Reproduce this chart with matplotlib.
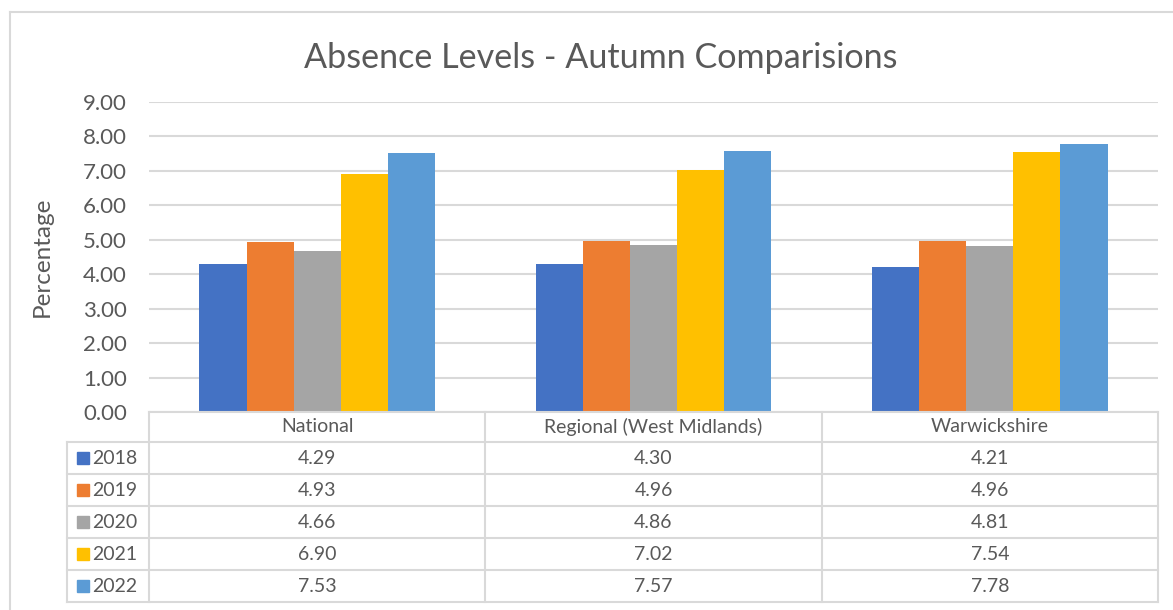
import matplotlib.pyplot as plt
from matplotlib.lines import Line2D
from matplotlib.patches import Rectangle
import numpy as np

plt.rcParams['font.family'] = ['Lato', 'DejaVu Sans']

# data
categories = ["National", "Regional (West Midlands)", "Warwickshire"]
years = ["2018", "2019", "2020", "2021", "2022"]
v2018 = [4.29, 4.30, 4.21]
v2019 = [4.93, 4.96, 4.96]
v2020 = [4.66, 4.86, 4.81]
v2021 = [6.90, 7.02, 7.54]
v2022 = [7.53, 7.57, 7.78]
series = [v2018, v2019, v2020, v2021, v2022]
colors = ["#4472C4", "#ED7D31", "#A5A5A5", "#FFC000", "#5B9BD5"]
yticks = np.arange(0, 10, 1)

W, H = 1173, 610
txt = "#595959"
grid = "#d9d9d9"

def fx(px):
    return px / W

def fy(py):
    return 1 - py / H

fig = plt.figure(figsize=(W / 100, H / 100), dpi=100)

# chart border (cut off at right/bottom like the screenshot)
fig.add_artist(Line2D([fx(10), fx(10)], [fy(12), fy(615)], color=grid, lw=1.5))
fig.add_artist(Line2D([fx(10), fx(1180)], [fy(12), fy(12)], color=grid, lw=1.5))

# plot area
left, right, top, bottom = 149, 1158, 102, 412
ax = fig.add_axes([fx(left), fy(bottom), fx(right) - fx(left), fy(top) - fy(bottom)])
x = np.arange(len(categories))
bw = 0.14
for i, (vals, c) in enumerate(zip(series, colors)):
    ax.bar(x + (i - 2) * bw, vals, bw, color=c, zorder=3)
ax.set_xlim(-0.5, 2.5)
ax.set_ylim(0, 9)
ax.set_yticks(yticks)
ax.set_yticklabels([f"{t:.2f}" for t in yticks], fontsize=16, color=txt)
ax.tick_params(axis='y', length=0, pad=16)
ax.set_xticks([])
ax.grid(axis='y', color=grid, lw=1.5, zorder=0)
for s in ax.spines.values():
    s.set_visible(False)

fig.text(fx(42), fy(257), "Percentage", rotation=90, ha='center', va='center',
         fontsize=17.5, color=txt)
fig.text(fx(601), fy(58), "Absence Levels - Autumn Comparisions", ha='center',
         va='center', fontsize=24.6, color=txt)

# data table
col_edges = [149, 485, 822, 1158]
tbl_left = 67
head_top, head_bot = 412, 442
row_h = 32
n_rows = len(years)
tbl_bot = head_bot + n_rows * row_h

def hline(y, x0, x1):
    fig.add_artist(Line2D([fx(x0), fx(x1)], [fy(y), fy(y)], color=grid, lw=1.5))

def vline(xp, y0, y1):
    fig.add_artist(Line2D([fx(xp), fx(xp)], [fy(y0), fy(y1)], color=grid, lw=1.5))

hline(head_top, col_edges[0], col_edges[-1])
for r in range(n_rows + 1):
    hline(head_bot + r * row_h, tbl_left, col_edges[-1])
vline(tbl_left, head_bot, tbl_bot)
for e in col_edges:
    vline(e, head_top, tbl_bot)

for j, cat in enumerate(categories):
    cx = (col_edges[j] + col_edges[j + 1]) / 2
    fig.text(fx(cx), fy((head_top + head_bot) / 2), cat, ha='center', va='center',
             fontsize=14, color=txt)

for r, (yr, vals, c) in enumerate(zip(years, series, colors)):
    cy = head_bot + r * row_h + row_h / 2
    fig.add_artist(Rectangle((fx(77), fy(cy + 6)), fx(12), 12 / H, color=c,
                             transform=fig.transFigure))
    fig.text(fx(92), fy(cy), yr, ha='left', va='center', fontsize=14, color=txt)
    for j, v in enumerate(vals):
        cx = (col_edges[j] + col_edges[j + 1]) / 2
        fig.text(fx(cx), fy(cy), f"{v:.2f}", ha='center', va='center',
                 fontsize=14, color=txt)

fig.savefig("out.png", dpi=100)
